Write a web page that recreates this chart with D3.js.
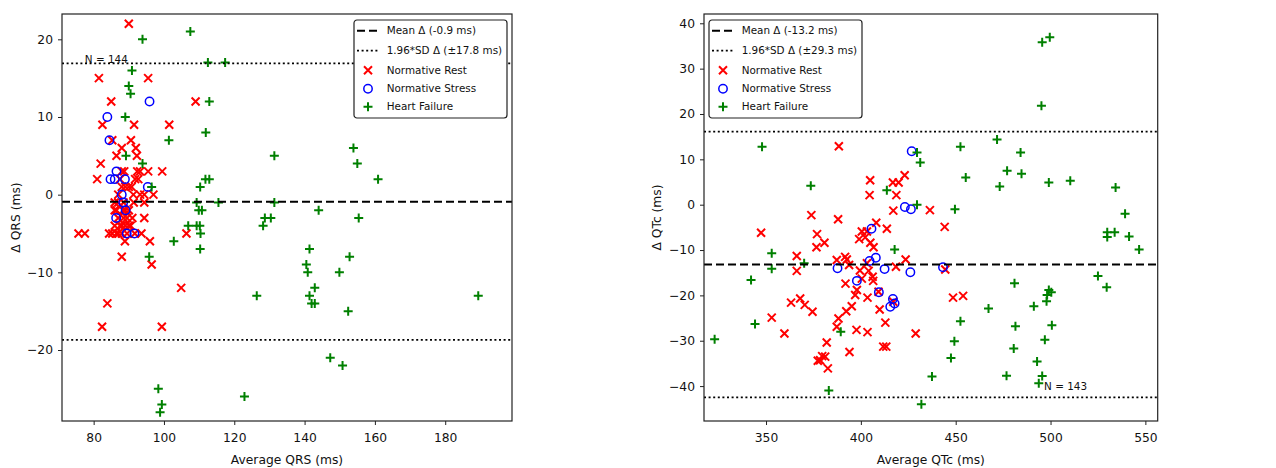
<!DOCTYPE html>
<html>
<head>
<meta charset="utf-8">
<script src="https://cdn.jsdelivr.net/npm/d3@7"></script>
<style>
  body { margin: 0; background: #fff; }
  svg { display: block; font-family: "DejaVu Sans", sans-serif; }
</style>
</head>
<body>
<script>
// ---- data: [average, delta] pairs ----
const qrsRest = [
  [90,22],[81.5,15],[95.5,15],[85,12],[109,12],[82.5,9],[91.5,9],[101.5,9],[85.3,7],[90.6,7],
  [88,6],[92,6],[86.5,5],[92.3,5],[82,4],[81,2],[95.5,3],[99.5,3],[92.4,3],[93.2,3],
  [88.7,3],[91.8,2],[92.7,2],[90.8,1],[97,0],[91.3,0],[93.2,0],[94.4,0],[86,-2],[88.4,-2],
  [94.4,-3],[91.4,-1],[94.4,-1],[75.7,-5],[77.5,-5],[84.4,-5],[85.3,-5],[93.6,-5],[91.7,-5],[96,-6],
  [88.9,-6],[88,-8],[96.5,-9],[106.4,-5],[104.9,-12],[83.9,-14],[82.4,-17],[99.4,-17],
  [86,-1],[86.5,-2],[87,-3],[87.5,-4],[88,-4],[88.5,-3],[89,-4],[89.5,-3],[90,-4],[87,-1],
  [88,1],[89,1],[87.5,2],[86,-4],[87,-5],[88,-5],[89,-2],[90,-2],[91,-3],[88.5,-1],
  [87,0],[90,1],[88,3],[86.5,-5],[89.5,-5],[90.5,-4]
];
const qrsStress = [
  [95.9,12],[83.9,10],[84.5,7],[86.5,3],[84.8,2],[86,2],[88.9,2],[95.4,1],[88,0],[88.4,-1],
  [89.1,-2],[86.4,-3],[89.4,-5],[91.6,-5]
];
const qrsHf = [
  [107.5,21],[93.9,20],[112.5,17],[117.4,17],[90.9,16],[90,14],[90.5,13],[112.9,12],[89,10],[111.9,8],
  [101.4,7],[89.2,5],[131.4,5],[153.9,6],[155,4],[160.9,2],[111.8,2],[112.9,2],[93.9,4],[110.3,1],
  [96.5,1],[109.3,-1],[115.5,-1],[131.4,-1],[109.9,-2],[110.8,-2],[144,-2],[128.7,-3],[130.4,-3],[155.4,-3],
  [106.9,-4],[109.3,-4],[110.2,-4],[128.2,-4],[110.4,-5],[102.8,-6],[110.3,-7],[141.4,-7],[95.8,-8],[152.8,-8],
  [140.5,-9],[140.9,-10],[149.9,-10],[142.9,-12],[126.4,-13],[141.4,-13],[189.4,-13],[142,-14],[142.9,-14],[152.4,-15],
  [147.3,-21],[150.8,-22],[98.4,-25],[122.9,-26],[99.4,-27],[98.9,-28]
];

const qtcRest = [
  [388.4,12.9],[404.9,5.4],[404.6,2.1],[423.1,6.5],[419.9,4.9],[416.9,4.9],[418.7,2.1],[417.1,-1.3],[436.4,-1.2],[373.9,-2.3],
  [388,-3.2],[347.4,-6.2],[376.9,-6.5],[380.8,-8.4],[376.6,-9.4],[444.2,-4.9],[413.7,-5.3],[408.1,-4],[400.5,-5.9],[403.2,-5.9],
  [399.1,-7.6],[402.3,-7.2],[405,-8.4],[406.7,-9.4],[366.2,-11.3],[366.2,-14.6],[387.3,-12.2],[391.7,-11.5],[392.6,-12.1],[393.8,-13.3],
  [403.2,-12.9],[423.6,-12.1],[418.5,-13.7],[444.5,-14.3],[404.1,-14.6],[406.2,-15.9],[391.9,-17.4],[400.5,-16.3],[397.9,-18.8],[397,-19.9],
  [403.5,-20.5],[409.3,-19.2],[368,-20.7],[363.2,-21.6],[370.4,-22.1],[374.5,-23.6],[395.2,-22.4],[392.3,-23.5],[409.9,-23.1],[417.1,-21.4],
  [448.6,-20.5],[453.9,-20.1],[353,-24.9],[388.2,-25.1],[387.3,-26.9],[412.9,-26],[359.7,-28.4],[397.7,-27.6],[403.5,-28.1],[428.9,-28.4],
  [382,-30.4],[394,-32.5],[411.8,-31.3],[413.4,-31.3],[377.3,-34.4],[379.6,-33.4],[381.2,-33.5],[378.5,-34.3],[382.6,-36.1],[406.5,-16.8],
  [399.5,-14.5]
];
const qtcStress = [
  [426.8,11.8],[423.2,-0.5],[426.4,-1],[405.6,-5.3],[407.9,-11.7],[404.6,-12.4],[387.7,-14],[412.5,-14.2],[426.1,-14.9],[443.3,-13.8],
  [397.9,-16.8],[409.5,-19.3],[416.9,-20.8],[417.8,-21.8],[415.5,-22.5]
];
const qtcHf = [
  [495.6,35.8],[499.6,36.9],[495.2,21.8],[347.9,12.8],[471.8,14.4],[452.5,12.8],[484.2,11.5],[429.6,11.5],[431.3,9.3],[477.1,7.5],
  [484.7,6.8],[455.3,6],[473.2,4],[499.1,4.9],[510.4,5.3],[534.3,3.8],[373.6,4.2],[413.7,3.2],[429.6,0],[449.6,-1],
  [539.3,-2],[529.9,-6.1],[529.9,-7.1],[533.8,-6.1],[541.4,-7],[546.7,-9.9],[417.8,-9.9],[353,-10.7],[353,-14.1],[370.1,-12.9],
  [342.1,-16.6],[525,-15.7],[529.6,-18.2],[481,-17.3],[499.1,-18.8],[500.4,-19.3],[498.2,-19.9],[497.9,-21.3],[491.2,-22.4],[467.3,-22.9],
  [452.5,-25.7],[344.2,-26.3],[481.5,-26.8],[500.7,-26.6],[389.4,-28],[322.9,-29.7],[449.3,-30.1],[497,-29.8],[480.6,-31.7],[447.5,-33.8],
  [492.9,-34.6],[437.5,-37.9],[476.8,-37.7],[495.6,-37.8],[493.8,-39.4],[383.1,-41],[431.9,-44]
];

const qrsTicksX = [80, 100, 120, 140, 160, 180];
const qrsTicksY = [-20, -10, 0, 10, 20];
const qtcTicksX = [350, 400, 450, 500, 550];
const qtcTicksY = [-40, -30, -20, -10, 0, 10, 20, 30, 40];

const qrsMean = -0.9, qrsLoa = 17.8;
const qtcMean = -13.2, qtcLoa = 29.3;

const seriesNames = ["Normative Rest", "Normative Stress", "Heart Failure"];

// ---- drawing ----
const svg = d3.select("body").append("svg")
  .attr("width", 1276)
  .attr("height", 468);

function drawMarker(sel, kind) {
  if (kind == 0) {
    sel.append("path").attr("d", "M-4,-4L4,4M-4,4L4,-4")
      .attr("stroke", "#ff0000").attr("stroke-width", 2).attr("fill", "none");
  } else if (kind == 1) {
    sel.append("circle").attr("r", 4.2)
      .attr("stroke", "#0000ff").attr("stroke-width", 1.5).attr("fill", "none");
  } else {
    sel.append("path").attr("d", "M-4.5,0H4.5M0,-4.5V4.5")
      .attr("stroke", "#008000").attr("stroke-width", 2).attr("fill", "none");
  }
}

function panel(cfg) {
  const x = d3.scaleLinear().domain(cfg.xDomain).range([cfg.left, cfg.right]);
  const y = d3.scaleLinear().domain(cfg.yDomain).range([cfg.bottom, cfg.top]);
  const g = svg.append("g");

  // scatter
  [cfg.rest, cfg.stress, cfg.hf].forEach((pts, i) => {
    g.append("g").selectAll("g")
      .data(pts)
      .enter()
      .append("g")
      .attr("transform", d => "translate(" + x(d[0]) + "," + y(d[1]) + ")")
      .each(function () { drawMarker(d3.select(this), i); });
  });

  // mean and limits of agreement
  g.append("line")
    .attr("x1", cfg.left).attr("x2", cfg.right)
    .attr("y1", y(cfg.mean)).attr("y2", y(cfg.mean))
    .attr("stroke", "#000").attr("stroke-width", 2)
    .attr("stroke-dasharray", "8,4");
  [cfg.mean + cfg.loa, cfg.mean - cfg.loa].forEach(v => {
    g.append("line")
      .attr("x1", cfg.left).attr("x2", cfg.right)
      .attr("y1", y(v)).attr("y2", y(v))
      .attr("stroke", "#000").attr("stroke-width", 1.8)
      .attr("stroke-dasharray", "2,2.6");
  });

  g.append("text")
    .attr("x", x(cfg.nPos[0])).attr("y", y(cfg.nPos[1]))
    .attr("font-size", "10.4px").attr("fill", "#111")
    .text(cfg.nText);

  // axes
  const xAxis = g.append("g")
    .attr("transform", "translate(0," + cfg.bottom + ")")
    .call(d3.axisBottom(x).tickValues(cfg.ticksX).tickSize(4).tickPadding(8));
  const yAxis = g.append("g")
    .attr("transform", "translate(" + cfg.left + ",0)")
    .call(d3.axisLeft(y).tickValues(cfg.ticksY).tickSize(4).tickPadding(5));
  [xAxis, yAxis].forEach(a => {
    a.select(".domain").remove();
    a.selectAll("text").attr("font-size", "12.3px").attr("fill", "#111")
      .attr("font-family", "DejaVu Sans");
    a.selectAll("line").attr("stroke", "#222");
  });

  g.append("rect")
    .attr("x", cfg.left).attr("y", cfg.top)
    .attr("width", cfg.right - cfg.left).attr("height", cfg.bottom - cfg.top)
    .attr("fill", "none").attr("stroke", "#222").attr("stroke-width", 1.2);

  g.append("text")
    .attr("x", (cfg.left + cfg.right) / 2).attr("y", 464)
    .attr("text-anchor", "middle").attr("font-size", "12.3px").attr("fill", "#111")
    .text(cfg.xLabel);
  g.append("text")
    .attr("transform", "translate(" + cfg.yLabelX + "," + (cfg.top + cfg.bottom) / 2 + ") rotate(-90)")
    .attr("text-anchor", "middle").attr("dy", "0.35em")
    .attr("font-size", "12.3px").attr("fill", "#111")
    .text(cfg.yLabel);

  // legend
  const lg = g.append("g").attr("transform", "translate(" + cfg.legendX + ",20)");
  lg.append("rect")
    .attr("width", 153).attr("height", 98).attr("rx", 3)
    .attr("fill", "#fff").attr("stroke", "#222").attr("stroke-width", 1.2);
  const rowsY = [10.7, 30.7, 50.3, 68.7, 86.7];
  const labels = [cfg.meanLabel, cfg.loaLabel].concat(seriesNames);
  labels.forEach((t, i) => {
    if (i == 0 || i == 1) {
      lg.append("line")
        .attr("x1", 3).attr("x2", 24).attr("y1", rowsY[i]).attr("y2", rowsY[i])
        .attr("stroke", "#000").attr("stroke-width", i == 0 ? 2 : 1.8)
        .attr("stroke-dasharray", i == 0 ? "8,4" : "2,2.6");
    } else {
      const m = lg.append("g").attr("transform", "translate(14," + rowsY[i] + ")");
      drawMarker(m, i - 2);
    }
    lg.append("text")
      .attr("x", 32.7).attr("y", rowsY[i]).attr("dy", "0.35em")
      .attr("font-size", "10.4px").attr("fill", "#111")
      .text(t);
  });
}

panel({
  left: 62, right: 512, top: 14, bottom: 421,
  xDomain: [71, 199], yDomain: [-29.14, 23.26],
  ticksX: qrsTicksX, ticksY: qrsTicksY,
  rest: qrsRest, stress: qrsStress, hf: qrsHf,
  mean: qrsMean, loa: qrsLoa,
  nText: "N = 144", nPos: [77.5, 16.9],
  xLabel: "Average QRS (ms)", yLabel: "Δ QRS (ms)", yLabelX: 16,
  meanLabel: "Mean Δ (-0.9 ms)", loaLabel: "1.96*SD Δ (±17.8 ms)",
  legendX: 354
});

panel({
  left: 704, right: 1157.7, top: 14, bottom: 421,
  xDomain: [317.3, 556.5], yDomain: [-47.7, 42.05],
  ticksX: qtcTicksX, ticksY: qtcTicksY,
  rest: qtcRest, stress: qtcStress, hf: qtcHf,
  mean: qtcMean, loa: qtcLoa,
  nText: "N = 143", nPos: [496.6, -40.9],
  xLabel: "Average QTc (ms)", yLabel: "Δ QTc (ms)", yLabelX: 656.5,
  meanLabel: "Mean Δ (-13.2 ms)", loaLabel: "1.96*SD Δ (±29.3 ms)",
  legendX: 709
});
</script>
</body>
</html>
